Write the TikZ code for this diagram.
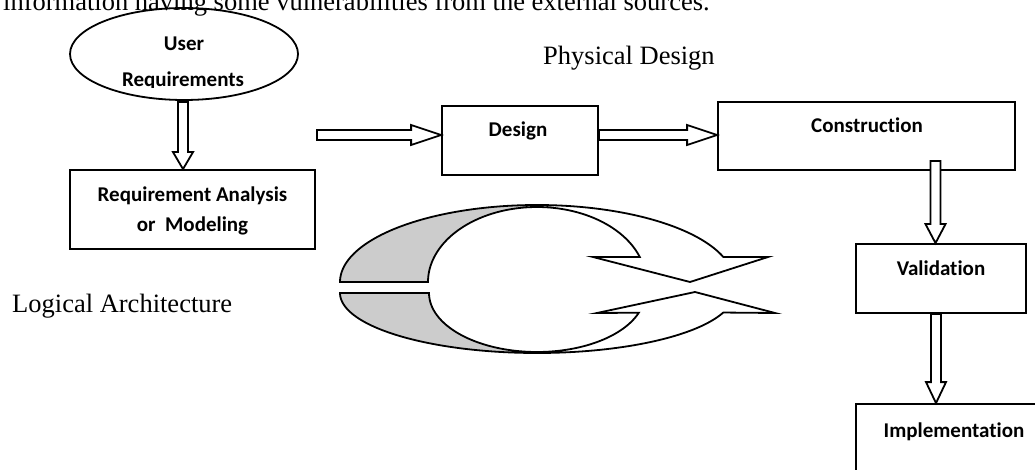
\documentclass[tikz,border=0pt]{standalone}
\usepackage{fontspec}
\setmainfont{Liberation Serif}
\newfontfamily\calfont[Ligatures=NoCommon]{Carlito}
\usetikzlibrary{shapes.geometric,calc}
\definecolor{bandgray}{RGB}{204,204,204}
\tikzset{
  box/.style={draw, line width=1.8pt, inner sep=0pt, fill=white},
  blk/.style={draw, line width=1.8pt, fill=white, line join=miter},
  cyc/.style={draw, line width=1.8pt, line join=miter},
  serif/.style={font=\fontsize{26.5}{30}\selectfont, inner sep=0pt},
  lbl/.style={font=\calfont\bfseries\fontsize{21}{25}\selectfont, inner sep=0pt, anchor=base},
}
\newcommand\vblock[3]{% start, tip, head length
  \draw[blk] ($(#1)+(-5,0)$) -- ($(#2)+(-5,-#3)$) -- ($(#2)+(-10,-#3)$) -- (#2) -- ($(#2)+(10,-#3)$) -- ($(#2)+(5,-#3)$) -- ($(#1)+(5,0)$) -- cycle;}
\newcommand\hblock[3]{% start, tip, head length
  \draw[blk] ($(#1)+(0,-5)$) -- ($(#2)+(-#3,-5)$) -- ($(#2)+(-#3,-10)$) -- (#2) -- ($(#2)+(-#3,10)$) -- ($(#2)+(-#3,5)$) -- ($(#1)+(0,5)$) -- cycle;}
\begin{document}
\begin{tikzpicture}[x=1pt,y=-1pt]
\useasboundingbox (0,0) rectangle (1035,470);
\clip (0,0) rectangle (1035,470);

% page text
\node[serif, anchor=base west] (toptext) at (3,10.5) {information having some vulnerabilities from the external sources.};
\node[serif, anchor=base west] (phys) at (543,65) {Physical Design};
\node[serif, anchor=base west] (logic) at (12,312) {Logical Architecture};

% boxes
\node[draw, ellipse, line width=1.8pt, minimum width=228pt, minimum height=92pt, inner sep=0pt] (user) at (184,54) {};
\node[box, minimum width=245pt, minimum height=79pt] (req) at (192.5,209.5) {};
\node[box, minimum width=156pt, minimum height=69pt] (design) at (520,140.5) {};
\node[box, minimum width=297pt, minimum height=68pt] (constr) at (866.5,136) {};
\node[box, minimum width=170pt, minimum height=69pt] (valid) at (941,278.5) {};
\node[box, minimum width=194pt, minimum height=96pt] (impl) at (953,452) {};

% labels
\begin{scope}
\clip (0,0) rectangle (1035,88);
\node[lbl] (userA) at (184,51) {User};
\node[lbl] (userB) at (183,87) {Requirements};
\end{scope}
\node[lbl] (reqA) at (192.5,202) {Requirement Analysis};
\node[lbl] (reqB) at (192.5,232) {or\ \ Modeling};
\node[lbl] (designL) at (518,137) {Design};
\node[lbl] (constrL) at (867,133) {Construction};
\node[lbl] (validL) at (941,275) {Validation};
\node[lbl] (implL) at (954,437) {Implementation};

% block arrows
\coordinate (a1s) at (183,102);
\coordinate (a1t) at (req.north -| a1s);
\vblock{a1s}{a1t}{17}
\coordinate (a2s) at (317,135);
\coordinate (a2t) at (design.west |- a2s);
\hblock{a2s}{a2t}{30}
\coordinate (a3s) at (design.east |- a2s);
\coordinate (a3t) at (constr.west |- a2s);
\hblock{a3s}{a3t}{30}
\coordinate (a4s) at (935.5,161);
\coordinate (a4t) at (valid.north -| a4s);
\vblock{a4s}{a4t}{19}
\coordinate (a5s) at (valid.south -| 936,0);
\coordinate (a5t) at (impl.north -| a5s);
\vblock{a5s}{a5t}{21}

% circular arrow (upper half)
\fill[bandgray] plot[domain=180:90, samples=40] ({537+197*cos(\x)},{282-77*sin(\x)})
  -- plot[domain=90:180, samples=40] ({537+109*cos(\x)},{282-75*sin(\x)}) -- cycle;
\draw[cyc] plot[domain=180:19, samples=90] ({537+197*cos(\x)},{282-77*sin(\x)})
  -- (768,257) -- (690,282) -- (593,257)
  -- plot[domain=19.5:180, samples=90] ({537+109*cos(\x)},{282-75*sin(\x)}) -- cycle;
% circular arrow (lower half)
\fill[bandgray] plot[domain=180:270, samples=40] ({537+197*cos(\x)},{293-60*sin(\x)})
  -- plot[domain=270:180, samples=40] ({537+108*cos(\x)},{293-59*sin(\x)}) -- cycle;
\draw[cyc] plot[domain=180:341, samples=90] ({537+197*cos(\x)},{293-60*sin(\x)})
  -- (775,313) -- (695,292) -- (597,313)
  -- plot[domain=340.5:180, samples=90] ({537+108*cos(\x)},{293-59*sin(\x)}) -- cycle;
\end{tikzpicture}
\end{document}
